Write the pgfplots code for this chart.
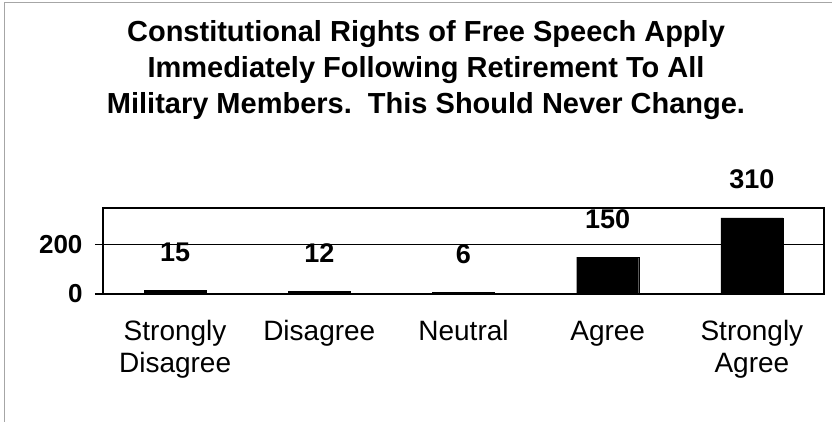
\documentclass[border=0pt]{standalone}
\usepackage{pgfplots}
\pgfplotsset{compat=1.18}
\usepackage{fontspec}
\setmainfont{Liberation Sans}

\begin{document}
\begin{tikzpicture}[x=1pt,y=1pt]
\useasboundingbox (0,0) rectangle (832,422);
% outer frame (left and top edges only visible)
\draw[gray!70, line width=1pt] (4,0) -- (4,419) -- (832,419);

\node[align=center, font=\fontsize{29}{36}\selectfont\bfseries] at (426,352)
  {Constitutional Rights of Free Speech Apply\\
   Immediately Following Retirement To All\\
   Military Members.\ \ This Should Never Change.};

\begin{axis}[
  at={(103pt,128pt)}, anchor=south west,
  scale only axis, width=721pt, height=86pt,
  xmin=-0.5, xmax=4.5, ymin=0, ymax=350,
  ybar, bar width=62pt,
  axis line style={line width=1.6pt},
  ytick={0,200}, ymajorgrids,
  major grid style={black, line width=1.2pt},
  tick align=outside, tick pos=left,
  major tick length=8pt, minor tick length=8pt,
  xtick={0,1,2,3,4},
  xtick style={draw=none},
  minor xtick={-0.5,0.5,1.5,2.5,3.5,4.5},
  minor tick style={black, line width=1pt},
  ytick style={black, line width=1.2pt},
  /pgf/number format/assume math mode=true,
  xticklabels={{\strut Strongly\\Disagree}, \strut Disagree, \strut Neutral, \strut Agree, {\strut Strongly\\Agree}},
  xticklabel style={align=center, font=\fontsize{28}{32}\selectfont, yshift=-13pt},
  yticklabel style={font=\fontsize{26}{30}\selectfont\bfseries, xshift=-9pt},
  nodes near coords,
  nodes near coords style={font=\fontsize{27}{30}\selectfont\bfseries, yshift=25pt},
  clip=false,
]
\addplot[fill=black, draw=black] coordinates {(0,15) (1,12) (2,6) (3,150) (4,310)};
\end{axis}
\end{tikzpicture}
\end{document}
